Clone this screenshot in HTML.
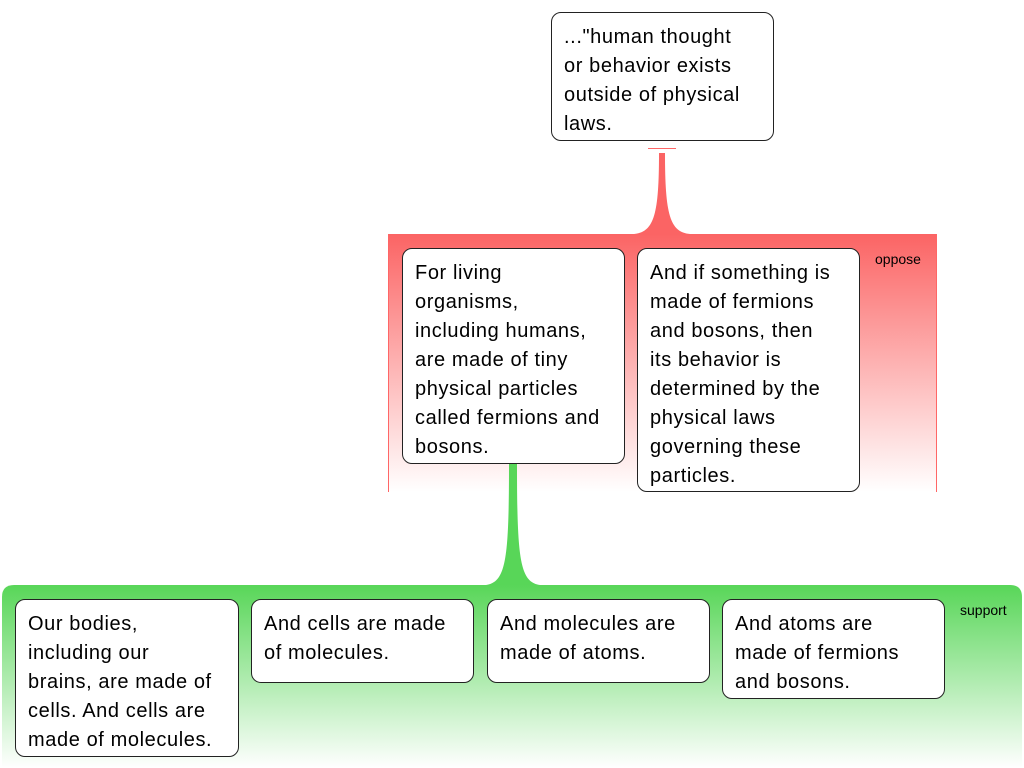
<!DOCTYPE html>
<html><head><meta charset="utf-8"><style>
body{margin:0;width:1024px;height:768px;position:relative;background:#fff;overflow:hidden;font-family:"Liberation Sans",sans-serif}
.b{position:absolute;background:#fff;border:1px solid #222;border-radius:10px;box-sizing:border-box;padding:10px 0 9px 12px;font-size:20px;letter-spacing:0.6px;line-height:29px;color:#000;white-space:nowrap}
.l{position:absolute;font-size:14px;color:#000}
</style></head><body>
<svg width="1024" height="768" style="position:absolute;left:0;top:0">
<defs>
<linearGradient id="r" x1="0" y1="0" x2="0" y2="1"><stop offset="0" stop-color="#fb6464"/><stop offset="1" stop-color="#fff"/></linearGradient>
<linearGradient id="g" x1="0" y1="0" x2="0" y2="1"><stop offset="0" stop-color="#58d658"/><stop offset="1" stop-color="#fff"/></linearGradient>
</defs>
<rect x="388" y="234" width="549" height="258" fill="url(#r)"/>
<line x1="388.5" y1="234" x2="388.5" y2="492" stroke="#f66" />
<line x1="936.5" y1="234" x2="936.5" y2="492" stroke="#f66" />
<line x1="648" y1="148.5" x2="676" y2="148.5" stroke="#f66"/>
<path d="M659 153 L665 153 C665 215 670 232 690 234 L634 234 C654 232 659 215 659 153 Z" fill="#fb6464"/>
<path d="M2 768 L2 597 Q2 585 14 585 L1010 585 Q1022 585 1022 597 L1022 768 Z" fill="url(#g)"/>
<path d="M509 463 L517 463 C517 560 520 582 540 585 L486 585 C506 582 509 560 509 463 Z" fill="#58d658"/>
</svg>
<div class="b" style="left:551px;top:12px;width:223px;height:129px">..."human thought<br>or behavior exists<br>outside of physical<br>laws.</div>
<div class="b" style="left:402px;top:248px;width:223px;height:216px">For living<br>organisms,<br>including humans,<br>are made of tiny<br>physical particles<br>called fermions and<br>bosons.</div>
<div class="b" style="left:637px;top:248px;width:223px;height:244px">And if something is<br>made of fermions<br>and bosons, then<br>its behavior is<br>determined by the<br>physical laws<br>governing these<br>particles.</div>
<div class="l" style="left:875px;top:251px">oppose</div>
<div class="b" style="left:15px;top:599px;width:224px;height:158px">Our bodies,<br>including our<br>brains, are made of<br>cells. And cells are<br>made of molecules.</div>
<div class="b" style="left:251px;top:599px;width:223px;height:84px">And cells are made<br>of molecules.</div>
<div class="b" style="left:487px;top:599px;width:223px;height:84px">And molecules are<br>made of atoms.</div>
<div class="b" style="left:722px;top:599px;width:223px;height:100px">And atoms are<br>made of fermions<br>and bosons.</div>
<div class="l" style="left:960px;top:602px">support</div>
</body></html>
